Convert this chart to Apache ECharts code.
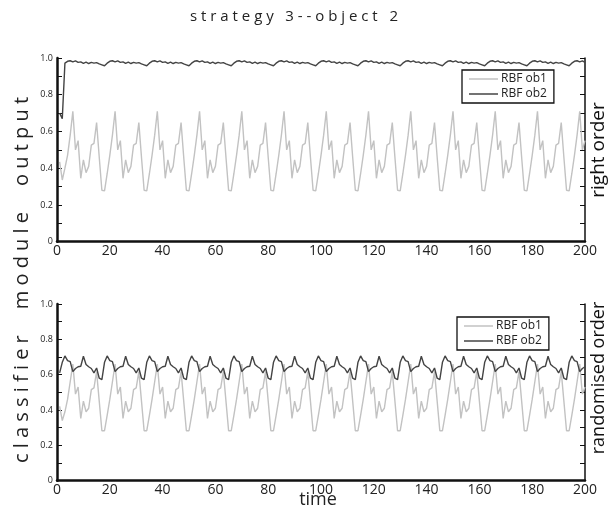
<!DOCTYPE html>
<html><head><meta charset="utf-8">
<script src="https://cdn.jsdelivr.net/npm/echarts@6/dist/echarts.min.js"></script>
<style>html,body{margin:0;padding:0;background:#fff}#c{width:616px;height:513px}</style>
</head><body><div id="c"></div>
<script>
const titleText = 's t r a t e g y   3 - - o b j e c t   2';
const leftLabel = 'c l a s s i f i e r     m o d u l e     o u t p u t';
const xLabel = 'time';
const topRightLabel = 'right order';
const bottomRightLabel = 'randomised order';
const seriesNames = ['RBF ob1', 'RBF ob2'];
const xTicks = [0, 20, 40, 60, 80, 100, 120, 140, 160, 180, 200];
const yTicks = [0, 0.2, 0.4, 0.6, 0.8, 1.0];

// time steps 1..200
const time = Array.from({length: 200}, (_, i) => i + 1);

// top panel (right order)
const topOb1 = [
0.435,0.336,0.40,0.47,0.58,0.71,0.50,0.55,0.345,0.445,0.376,0.41,0.526,0.535,0.648,0.46,
0.28,0.277,0.37,0.47,0.58,0.71,0.50,0.55,0.345,0.445,0.376,0.41,0.526,0.535,0.648,0.46,
0.28,0.277,0.37,0.47,0.58,0.71,0.50,0.55,0.345,0.445,0.376,0.41,0.526,0.535,0.648,0.46,
0.28,0.277,0.37,0.47,0.58,0.71,0.50,0.55,0.345,0.445,0.376,0.41,0.526,0.535,0.648,0.46,
0.28,0.277,0.37,0.47,0.58,0.71,0.50,0.55,0.345,0.445,0.376,0.41,0.526,0.535,0.648,0.46,
0.28,0.277,0.37,0.47,0.58,0.71,0.50,0.55,0.345,0.445,0.376,0.41,0.526,0.535,0.648,0.46,
0.28,0.277,0.37,0.47,0.58,0.71,0.50,0.55,0.345,0.445,0.376,0.41,0.526,0.535,0.648,0.46,
0.28,0.277,0.37,0.47,0.58,0.71,0.50,0.55,0.345,0.445,0.376,0.41,0.526,0.535,0.648,0.46,
0.28,0.277,0.37,0.47,0.58,0.71,0.50,0.55,0.345,0.445,0.376,0.41,0.526,0.535,0.648,0.46,
0.28,0.277,0.37,0.47,0.58,0.71,0.50,0.55,0.345,0.445,0.376,0.41,0.526,0.535,0.648,0.46,
0.28,0.277,0.37,0.47,0.58,0.71,0.50,0.55,0.345,0.445,0.376,0.41,0.526,0.535,0.648,0.46,
0.28,0.277,0.37,0.47,0.58,0.71,0.50,0.55,0.345,0.445,0.376,0.41,0.526,0.535,0.648,0.46,
0.28,0.277,0.37,0.47,0.58,0.71,0.50,0.55
];
const topOb2 = [
0.70,0.67,0.972,0.982,0.985,0.979,0.984,0.976,0.979,0.971,0.977,0.970,0.976,0.972,0.975,0.968,
0.963,0.958,0.972,0.982,0.985,0.979,0.984,0.976,0.979,0.971,0.977,0.970,0.976,0.972,0.975,0.968,
0.963,0.958,0.972,0.982,0.985,0.979,0.984,0.976,0.979,0.971,0.977,0.970,0.976,0.972,0.975,0.968,
0.963,0.958,0.972,0.982,0.985,0.979,0.984,0.976,0.979,0.971,0.977,0.970,0.976,0.972,0.975,0.968,
0.963,0.958,0.972,0.982,0.985,0.979,0.984,0.976,0.979,0.971,0.977,0.970,0.976,0.972,0.975,0.968,
0.963,0.958,0.972,0.982,0.985,0.979,0.984,0.976,0.979,0.971,0.977,0.970,0.976,0.972,0.975,0.968,
0.963,0.958,0.972,0.982,0.985,0.979,0.984,0.976,0.979,0.971,0.977,0.970,0.976,0.972,0.975,0.968,
0.963,0.958,0.972,0.982,0.985,0.979,0.984,0.976,0.979,0.971,0.977,0.970,0.976,0.972,0.975,0.968,
0.963,0.958,0.972,0.982,0.985,0.979,0.984,0.976,0.979,0.971,0.977,0.970,0.976,0.972,0.975,0.968,
0.963,0.958,0.972,0.982,0.985,0.979,0.984,0.976,0.979,0.971,0.977,0.970,0.976,0.972,0.975,0.968,
0.963,0.958,0.972,0.982,0.985,0.979,0.984,0.976,0.979,0.971,0.977,0.970,0.976,0.972,0.975,0.968,
0.963,0.958,0.972,0.982,0.985,0.979,0.984,0.976,0.979,0.971,0.977,0.970,0.976,0.972,0.975,0.968,
0.963,0.958,0.972,0.982,0.985,0.979,0.984,0.976
];

// bottom panel (randomised order)
const botOb1 = [
0.42,0.34,0.39,0.46,0.56,0.66,0.49,0.53,0.352,0.45,0.39,0.41,0.515,0.525,0.617,0.45,
0.283,0.283,0.37,0.46,0.56,0.66,0.49,0.53,0.352,0.45,0.39,0.41,0.515,0.525,0.617,0.45,
0.283,0.283,0.37,0.46,0.56,0.66,0.49,0.53,0.352,0.45,0.39,0.41,0.515,0.525,0.617,0.45,
0.283,0.283,0.37,0.46,0.56,0.66,0.49,0.53,0.352,0.45,0.39,0.41,0.515,0.525,0.617,0.45,
0.283,0.283,0.37,0.46,0.56,0.66,0.49,0.53,0.352,0.45,0.39,0.41,0.515,0.525,0.617,0.45,
0.283,0.283,0.37,0.46,0.56,0.66,0.49,0.53,0.352,0.45,0.39,0.41,0.515,0.525,0.617,0.45,
0.283,0.283,0.37,0.46,0.56,0.66,0.49,0.53,0.352,0.45,0.39,0.41,0.515,0.525,0.617,0.45,
0.283,0.283,0.37,0.46,0.56,0.66,0.49,0.53,0.352,0.45,0.39,0.41,0.515,0.525,0.617,0.45,
0.283,0.283,0.37,0.46,0.56,0.66,0.49,0.53,0.352,0.45,0.39,0.41,0.515,0.525,0.617,0.45,
0.283,0.283,0.37,0.46,0.56,0.66,0.49,0.53,0.352,0.45,0.39,0.41,0.515,0.525,0.617,0.45,
0.283,0.283,0.37,0.46,0.56,0.66,0.49,0.53,0.352,0.45,0.39,0.41,0.515,0.525,0.617,0.45,
0.283,0.283,0.37,0.46,0.56,0.66,0.49,0.53,0.352,0.45,0.39,0.41,0.515,0.525,0.617,0.45,
0.283,0.283,0.37,0.46,0.56,0.66,0.49,0.53
];
const botOb2 = [
0.61,0.67,0.706,0.68,0.674,0.617,0.635,0.645,0.648,0.704,0.658,0.645,0.635,0.61,0.638,0.58,
0.572,0.67,0.706,0.68,0.674,0.617,0.635,0.645,0.648,0.704,0.658,0.645,0.635,0.61,0.638,0.58,
0.572,0.67,0.706,0.68,0.674,0.617,0.635,0.645,0.648,0.704,0.658,0.645,0.635,0.61,0.638,0.58,
0.572,0.67,0.706,0.68,0.674,0.617,0.635,0.645,0.648,0.704,0.658,0.645,0.635,0.61,0.638,0.58,
0.572,0.67,0.706,0.68,0.674,0.617,0.635,0.645,0.648,0.704,0.658,0.645,0.635,0.61,0.638,0.58,
0.572,0.67,0.706,0.68,0.674,0.617,0.635,0.645,0.648,0.704,0.658,0.645,0.635,0.61,0.638,0.58,
0.572,0.67,0.706,0.68,0.674,0.617,0.635,0.645,0.648,0.704,0.658,0.645,0.635,0.61,0.638,0.58,
0.572,0.67,0.706,0.68,0.674,0.617,0.635,0.645,0.648,0.704,0.658,0.645,0.635,0.61,0.638,0.58,
0.572,0.67,0.706,0.68,0.674,0.617,0.635,0.645,0.648,0.704,0.658,0.645,0.635,0.61,0.638,0.58,
0.572,0.67,0.706,0.68,0.674,0.617,0.635,0.645,0.648,0.704,0.658,0.645,0.635,0.61,0.638,0.58,
0.572,0.67,0.706,0.68,0.674,0.617,0.635,0.645,0.648,0.704,0.658,0.645,0.635,0.61,0.638,0.58,
0.572,0.67,0.706,0.68,0.674,0.617,0.635,0.645,0.648,0.704,0.658,0.645,0.635,0.61,0.638,0.58,
0.572,0.67,0.706,0.68,0.674,0.617,0.635,0.645
];

const FONT = '"Open Sans", "Noto Sans", sans-serif';
const C1 = '#c2c2c2', C2 = '#444444';
const pairs = vals => time.map((t, i) => [t, vals[i]]);

function xAxisFor(gi) {
  return {
    type: 'value', gridIndex: gi, min: xTicks[0], max: xTicks[xTicks.length - 1],
    interval: xTicks[1] - xTicks[0],
    axisLine: {show: true, onZero: false, lineStyle: {color: '#111', width: 2.5}},
    axisTick: {show: false},
    splitLine: {show: false},
    axisLabel: {fontFamily: FONT, fontSize: 14, color: '#222', margin: 2}
  };
}
function yAxisFor(gi, right) {
  return {
    type: 'value', gridIndex: gi, position: right ? 'right' : 'left',
    min: yTicks[0], max: yTicks[yTicks.length - 1], interval: yTicks[1] - yTicks[0],
    axisLine: {show: true, lineStyle: {color: '#111', width: right ? 1.5 : 2.5}},
    axisTick: {show: true, inside: true, length: 5, lineStyle: {color: '#111', width: 1}},
    minorTick: {show: true, splitNumber: 2, length: 5, lineStyle: {color: '#111', width: 1}},
    splitLine: {show: false}, minorSplitLine: {show: false},
    axisLabel: right ? {show: false} : {
      fontFamily: FONT, fontSize: 9, color: '#222', margin: 4,
      formatter: v => v === 0 ? '0' : v.toFixed(1)
    }
  };
}
function legendFor(left, top) {
  return {
    orient: 'vertical', left: left, top: top,
    backgroundColor: '#fff',
    borderColor: '#111', borderWidth: 1.3, borderRadius: 0,
    padding: [3, 7, 3, 7], itemGap: 3, itemWidth: 29, itemHeight: 1.5,
    textStyle: {fontFamily: FONT, fontSize: 12, color: '#222', padding: [0, 0, 0, -2]},
    data: seriesNames.map(n => ({name: n, icon: 'rect'}))
  };
}
function lineSeries(name, vals, xi, yi, color, width, z) {
  return {
    name: name, type: 'line', xAxisIndex: xi, yAxisIndex: yi,
    data: pairs(vals), showSymbol: false, symbol: 'none', z: z,
    lineStyle: {color: color, width: width}, itemStyle: {color: color},
    silent: true, animation: false
  };
}

const chart = echarts.init(document.getElementById('c'), null, {renderer: 'canvas'});
chart.setOption({
  backgroundColor: '#fff',
  animation: false,
  grid: [
    {left: 57, right: 31, top: 58, height: 183.7},
    {left: 57, right: 31, top: 304, height: 176.7}
  ],
  xAxis: [xAxisFor(0), xAxisFor(1)],
  yAxis: [yAxisFor(0, false), yAxisFor(0, true), yAxisFor(1, false), yAxisFor(1, true)],
  legend: [legendFor(462, 70), legendFor(457, 317)],
  series: [
    lineSeries(seriesNames[0], topOb1, 0, 0, C1, 1.4, 2),
    lineSeries(seriesNames[1], topOb2, 0, 0, C2, 1.4, 3),
    lineSeries(seriesNames[0], botOb1, 1, 2, C1, 1.4, 2),
    lineSeries(seriesNames[1], botOb2, 1, 2, C2, 1.4, 3)
  ],
  graphic: [
    {type: 'text', x: 294, y: 17, style: {text: titleText, font: '15px ' + FONT, fill: '#222', textAlign: 'center', textVerticalAlign: 'middle'}},
    {type: 'text', x: 22, y: 280, rotation: Math.PI / 2, style: {text: leftLabel, font: '20px ' + FONT, fill: '#222', textAlign: 'center', textVerticalAlign: 'middle'}},
    {type: 'text', x: 318, y: 500, style: {text: xLabel, font: '18px ' + FONT, fill: '#222', textAlign: 'center', textVerticalAlign: 'middle'}},
    {type: 'text', x: 599, y: 150, rotation: Math.PI / 2, style: {text: topRightLabel, font: '19px ' + FONT, fill: '#111', textAlign: 'center', textVerticalAlign: 'middle'}},
    {type: 'text', x: 599, y: 378, rotation: Math.PI / 2, style: {text: bottomRightLabel, font: '18px ' + FONT, fill: '#111', textAlign: 'center', textVerticalAlign: 'middle'}}
  ]
});
</script>
</body></html>
